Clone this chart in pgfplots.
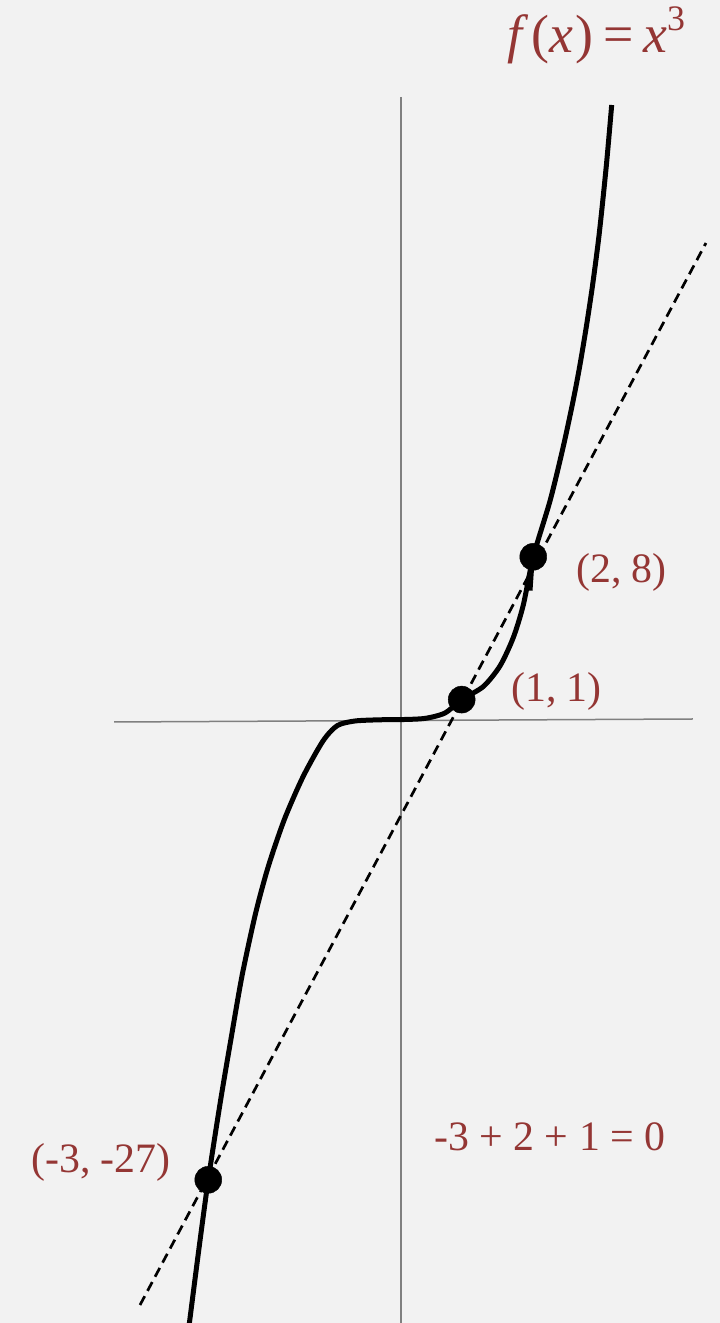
\documentclass[border=0pt]{standalone}
\usepackage{fontspec}
\setmainfont{Liberation Serif}
\usepackage{pgfplots}
\pgfplotsset{compat=1.18}
\definecolor{bg}{HTML}{F2F2F2}
\definecolor{lab}{HTML}{943634}
\definecolor{axgray}{HTML}{808080}
\tikzset{lbl/.style={anchor=base west, inner sep=0pt, text=lab, font=\fontsize{42}{48}\selectfont}}
\begin{document}
\begin{tikzpicture}
\begin{axis}[
  scale only axis, width=720bp, height=1323bp,
  xmin=-6.1692, xmax=4.9077, ymin=-30.2, ymax=35.95,
  hide axis,
]
\fill[bg] (rel axis cs:0,0) rectangle (rel axis cs:1,1);

% axes
\addplot[axgray, line width=1.5bp] coordinates {(-4.415,-0.15) (4.492,0)};
\addplot[axgray, line width=1.5bp] coordinates {(0,31.1) (0,-30.5)};

% secant line through the three points
\addplot[black, line width=2.7bp, dash pattern=on 10bp off 6bp] coordinates {(-4.015,-29.3) (4.692,23.8)};

% f(x) = x^3 as sketched
\addplot[black, line width=5bp, smooth, tension=0.45] coordinates {
(-3.265,-30.45) (-3.111,-26.55) (-2.965,-23.04) (-2.777,-19.1) (-2.615,-15.99)
(-2.446,-12.85) (-2.238,-9.73) (-2.042,-7.38) (-1.795,-5.03) (-1.506,-2.88)
(-1.2,-1.10) (-0.98,-0.33) (-0.708,-0.10) (-0.323,-0.04)
(0,-0.03) (0.369,0.03) (0.677,0.30) (0.934,0.97) (1.266,1.62)
(1.523,2.65) (1.728,4.07) (1.882,5.70) (2.035,8.11)
(2.297,10.95) (2.497,13.62) (2.651,15.95) (2.749,17.62) (2.852,19.62)
(2.952,21.79) (3.051,24.29) (3.158,27.62) (3.242,30.7)
};
\addplot[black, line width=5bp] coordinates {(2.01,7.6) (1.985,6.42)};

\addplot[only marks, mark=*, mark size=13.5bp, black] coordinates {
(-2.965,-23.04) (0.934,0.97) (2.035,8.11)
};

\node[lbl] at (axis cs:-5.692,-22.7) {(-3, -27)};
\node[lbl] at (axis cs:2.692,6.8) {(2, 8)};
\node[lbl] at (axis cs:1.692,0.85) {(1, 1)};
\node[lbl] at (axis cs:0.508,-21.6) {-3 + 2 + 1 = 0};
\node[lbl, font=\fontsize{54}{60}\selectfont] at (axis cs:1.631,33.3)
  {\textit{f}\kern0.06em(\textit{x}\kern0.04em)\kern0.18em=\kern0.18em\textit{x}\raisebox{0.42em}{\fontsize{36}{38}\selectfont 3}};
\end{axis}
\end{tikzpicture}
\end{document}
